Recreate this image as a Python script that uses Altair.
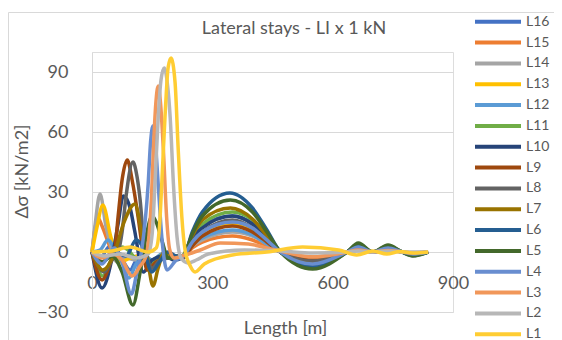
import altair as alt
import pandas as pd

SERIES = ["L16", "L15", "L14", "L13", "L12", "L11", "L10", "L9",
          "L8", "L7", "L6", "L5", "L4", "L3", "L2", "L1"]
COLORS = ["#4472C4", "#ED7D31", "#A5A5A5", "#FFC000", "#5B9BD5", "#70AD47",
          "#264478", "#9E480E", "#636363", "#997300", "#255E91", "#43682B",
          "#698ED0", "#F1975A", "#B7B7B7", "#FFCD33"]
X_TICKS = [0, 300, 600, 900]
Y_TICKS = [-30, 0, 30, 60, 90]

L16_X = [0, 20, 45, 70, 95, 115, 135, 152, 172, 200, 225, 250, 275, 350, 400, 436, 470, 550, 636, 664, 700, 738, 773, 800, 838]
L16_Y = [0, -3, 3, -2, -9, -3, -5, -9, -3, -2, -3, 7, 13, 18, 14, 7, 0, -7, 0, 3.5, 0, 3, 0, -1.5, 0]

L15_X = [0, 15, 25, 45, 65, 90, 120, 150, 180, 210, 230, 250, 275, 350, 400, 436, 470, 550, 636, 664, 700, 738, 773, 800, 838]
L15_Y = [0, 17, 13, 2.5, -4, -3, -2, -4, -1, -2, -2, 2, 5, 8, 6, 3, 0, -2.5, 0, 1.2, 0, 1, 0, -0.5, 0]

L14_X = [0, 8, 20, 35, 45, 62, 85, 110, 130, 150, 175, 205, 230, 250, 275, 350, 400, 436, 470, 550, 636, 664, 700, 738, 773, 800, 838]
L14_Y = [0, 14, 29, 12.5, 4.5, -5, -3, -4, -1, -5, -2, -3, -2, 3, 6, 10, 8, 4, 0, -3, 0, 1.5, 0, 1.2, 0, -0.5, 0]

L13_X = [0, 12, 27, 47, 57, 72, 95, 120, 150, 175, 205, 228, 250, 275, 350, 400, 436, 470, 550, 636, 664, 700, 738, 773, 800, 838]
L13_Y = [0, 12, 23.5, 7.5, 1, -5, -3, -2, -6, -1, -3, -3, 5, 9, 14, 11, 5, 0, -4, 0, 2, 0, 1.6, 0, -0.8, 0]

L12_X = [0, 20, 40, 60, 75, 92, 110, 130, 150, 175, 205, 228, 250, 275, 350, 400, 436, 470, 550, 636, 664, 700, 738, 773, 800, 838]
L12_Y = [0, 1, 6, 0, -5, -13, -6, -2, -4, -1, -3, -3, 4, 7, 11, 8.5, 4, 0, -3.5, 0, 1.5, 0, 1.2, 0, -0.6, 0]

L11_X = [0, 27, 50, 75, 90, 110, 130, 150, 170, 200, 225, 250, 275, 350, 400, 436, 470, 550, 636, 664, 700, 738, 773, 800, 838]
L11_Y = [0, -12, -3, 2.5, 1, -3, -1, -6, -2, -3, -2, 8, 14, 20, 16, 8, 0, -6, 0, 3, 0, 2.5, 0, -1.3, 0]

L10_X = [0, 25, 50, 65, 78, 95, 106, 128, 150, 180, 205, 225, 250, 275, 350, 400, 436, 470, 550, 636, 664, 700, 738, 773, 800, 838]
L10_Y = [0, -18, -3, 14, 28, 22, 11, -10, -4, -2, -4, -3, 7, 12, 18, 14, 7, 0, -5, 0, 2.5, 0, 2, 0, -1, 0]

L9_X = [0, 25, 45, 57, 65, 75, 88, 100, 115, 125, 138, 160, 190, 225, 250, 275, 350, 400, 436, 470, 550, 636, 664, 700, 738, 773, 800, 838]
L9_Y = [0, -14, -6, 1, 17.5, 36, 46, 36, 17.5, 3, -9, -5, -3, -3, 3, 8, 13, 10, 5, 0, -4, 0, 2, 0, 1.5, 0, -0.8, 0]

L8_X = [0, 30, 50, 65, 75, 85, 102, 112, 120, 127, 137, 150, 170, 195, 225, 250, 275, 350, 400, 436, 470, 550, 636, 664, 700, 738, 773, 800, 838]
L8_Y = [0, -10, -4, 0, 10, 28, 45, 38, 26, 10, -2, -8, -4, -3, -3, 5, 10, 16, 12, 6, 0, -4.5, 0, 2.2, 0, 1.8, 0, -1, 0]

L7_X = [0, 27, 55, 80, 107, 125, 140, 152, 165, 180, 205, 225, 250, 275, 345, 400, 436, 470, 550, 636, 664, 700, 738, 773, 800, 838]
L7_Y = [0, -9, -1, 15, 24, 8, -6, -17, -8, 0, -2, -2, 8, 16, 22, 16.5, 8, 0, -6, 0, 3, 0, 2.5, 0, -1.3, 0]

L6_X = [0, 25, 55, 85, 110, 128, 149, 168, 190, 210, 228, 250, 275, 344, 400, 436, 470, 550, 636, 664, 700, 738, 773, 800, 838]
L6_Y = [0, -5, 0, -2, 6, 2, -10, -5, 0, -2, -2, 10, 20, 29.5, 22, 11, 0, -7.5, 0, 4, 0, 3, 0, -1.8, 0]

L5_X = [0, 25, 50, 75, 102, 120, 135, 150, 162, 174, 190, 210, 228, 250, 275, 345, 400, 436, 470, 550, 636, 664, 700, 738, 773, 800, 838]
L5_Y = [0, -5, -2, -10, -26.5, -10, 8, 18, 14, 6, -3, -3, -2, 9, 18, 26, 20, 10, 0, -8.5, 0, 4.5, 0, 3.5, 0, -2, 0]

L4_X = [0, 25, 55, 75, 98, 112, 124, 140, 146, 152, 158, 165, 174, 187, 210, 228, 250, 275, 350, 400, 436, 470, 550, 636, 664, 700, 738, 773, 800, 838]
L4_Y = [0, -6, 2, -5, -21, -10, 1, 34, 55, 63, 55, 34, 7.5, -9, -4, -2, 5, 10, 15, 12, 6, 0, -6, 0, 2.5, 0, 2, 0, -1, 0]

L3_X = [0, 25, 50, 75, 100, 120, 135, 142, 148, 153, 159, 165, 171, 178, 186, 194, 205, 225, 270, 320, 390, 436, 480, 550, 636, 664, 700, 738, 773, 800, 838]
L3_Y = [0, -3, -1, -4, -12, -7, -2, 8, 26, 51, 74, 83, 74, 51, 17.5, 1, -3, -2, 1, 4.5, 4, 2, 0, -2.5, 0, 1, 0, 0.8, 0, -0.4, 0]

L2_X = [0, 30, 70, 110, 140, 150, 157, 165, 172, 180, 188, 195, 203, 212, 222, 240, 260, 290, 380, 470, 550, 636, 664, 700, 738, 773, 838]
L2_Y = [0, -2, -1, -3, -1, 9, 34, 67, 86, 92, 84, 67, 34, 7.5, -3, -5.5, -4, -1, 1, 0.5, -0.5, 0, 0.5, 0, 0.4, 0, 0]

L1_X = [0, 50, 95, 140, 160, 168, 174, 182, 190, 197, 207, 215, 224, 232, 245, 257, 280, 350, 436, 525, 615, 660, 700, 735, 768, 800, 838]
L1_Y = [0, 0.5, 2.5, 0, 2, 12, 34.5, 67.5, 92.5, 97, 85, 51, 17.5, 1, -7, -10, -6, -1.5, 0, 2.5, 1, -1.5, 0.5, -1, 0.3, -0.5, 0]

SERIES_DATA = [
    ("L16", L16_X, L16_Y), ("L15", L15_X, L15_Y), ("L14", L14_X, L14_Y),
    ("L13", L13_X, L13_Y), ("L12", L12_X, L12_Y), ("L11", L11_X, L11_Y),
    ("L10", L10_X, L10_Y), ("L9", L9_X, L9_Y), ("L8", L8_X, L8_Y),
    ("L7", L7_X, L7_Y), ("L6", L6_X, L6_Y), ("L5", L5_X, L5_Y),
    ("L4", L4_X, L4_Y), ("L3", L3_X, L3_Y), ("L2", L2_X, L2_Y),
    ("L1", L1_X, L1_Y),
]

rows = []
for name, xs, ys in SERIES_DATA:
    for i, (xv, yv) in enumerate(zip(xs, ys)):
        rows.append({"series": name, "x": xv, "y": yv, "idx": i})
df = pd.DataFrame(rows)

TXT = "#595959"
GRID = "#d9d9d9"
FONT = "Lato"

frame = alt.Chart(pd.DataFrame({"a": [0]})).mark_rect(
    fillOpacity=0, stroke=GRID, strokeWidth=1
).encode(
    x=alt.value(-83.5), x2=alt.value(700),
    y=alt.value(-39.5), y2=alt.value(400)
)

lines = alt.Chart(df).mark_line(strokeWidth=3.5, interpolate="monotone").encode(
    x=alt.X("x:Q", scale=alt.Scale(domain=[0, 900], nice=False, zero=False),
            axis=alt.Axis(values=X_TICKS, offset=-60, domain=False, ticks=False,
                          grid=False, labelFlush=False, labelPadding=22,
                          labelFontSize=18, labelColor=TXT, labelFont=FONT,
                          title="Length [m]", titleFontSize=18, titleFont=FONT,
                          titleFontWeight="normal", titleColor=TXT,
                          titleX=193, titleY=76, titleBaseline="middle",
                          titleAlign="center")),
    y=alt.Y("y:Q", scale=alt.Scale(domain=[-30, 100], nice=False, zero=False),
            axis=alt.Axis(values=Y_TICKS, grid=True, gridColor=GRID, gridWidth=1,
                          domain=True, domainColor=GRID, domainWidth=1,
                          ticks=False, labelPadding=24, labelFontSize=18,
                          labelColor=TXT, labelFont=FONT, labelFlush=False,
                          title="Δσ [kN/m2]", titleFontSize=18, titleFont=FONT,
                          titleFontWeight="normal", titleColor=TXT,
                          titleX=-70, titleY=119, titleAngle=-90,
                          titleAlign="center", titleBaseline="middle")),
    color=alt.Color("series:N", sort=SERIES,
                    scale=alt.Scale(domain=SERIES, range=COLORS),
                    legend=alt.Legend(orient="none", legendX=381, legendY=-38.3,
                                      title=None, symbolType="stroke",
                                      symbolSize=2116, symbolStrokeWidth=4,
                                      labelFontSize=14, labelFont=FONT,
                                      labelColor=TXT, clipHeight=16,
                                      rowPadding=4.84, labelOffset=3,
                                      padding=0, direction="vertical")),
    order="idx:Q",
)

chart = alt.layer(frame, lines).properties(
    width=361, height=260,
    title=alt.TitleParams("Lateral stays - LI x 1 kN", fontSize=18, font=FONT,
                          fontWeight="normal", color=TXT, anchor="middle",
                          frame="group", dx=21.5, dy=34.5, offset=0,
                          baseline="middle"),
    autosize=alt.AutoSizeParams(type="none"),
    padding={"left": 84, "top": 44, "right": 101, "bottom": 28},
).configure_view(strokeWidth=0).configure(font=FONT)

chart.save("out.html", embed_options={"renderer": "svg", "actions": False})
